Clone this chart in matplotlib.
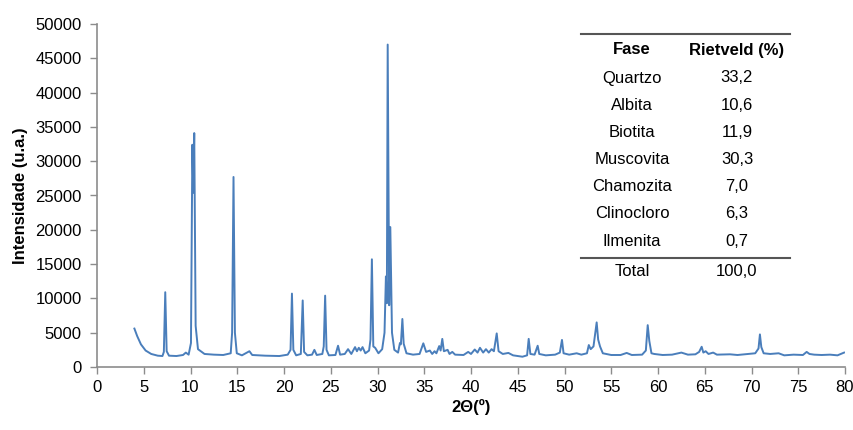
import matplotlib.pyplot as plt
from matplotlib.lines import Line2D

plt.rcParams['font.family'] = ['Liberation Sans', 'DejaVu Sans']

# XRD pattern (2theta in degrees, intensity in a.u.)
two_theta = [
    4.0, 4.3, 4.7, 5.2, 5.8, 6.5, 7.0, 7.15, 7.3, 7.45, 7.7, 8.5, 9.2, 9.5, 9.8,
    10.05, 10.2, 10.3, 10.4, 10.55, 10.8, 11.5, 12.5, 13.5, 14.3, 14.45, 14.6, 14.75, 14.95,
    15.5, 16.3, 16.6, 18.0, 19.5, 20.4, 20.7, 20.85, 21.0, 21.3, 21.8, 22.0, 22.15, 22.5,
    23.0, 23.25, 23.5, 24.1, 24.25, 24.4, 24.55, 24.8, 25.5, 25.78, 26.0, 26.5, 26.85, 27.2,
    27.6, 27.8, 28.0, 28.2, 28.4, 28.7, 29.1, 29.25, 29.4, 29.55, 29.75, 30.1, 30.5, 30.75,
    30.9, 31.0, 31.09, 31.25, 31.37, 31.55, 31.8, 32.2, 32.4, 32.5, 32.66, 32.8, 33.1, 33.8,
    34.5, 34.9, 35.2, 35.6, 35.85, 36.1, 36.3, 36.6, 36.75, 36.93, 37.1, 37.5, 37.7, 38.0,
    38.3, 39.2, 39.7, 40.0, 40.4, 40.7, 40.96, 41.3, 41.6, 41.9, 42.2, 42.45, 42.75, 42.95,
    43.4, 44.0, 44.5, 45.5, 46.0, 46.17, 46.35, 46.8, 47.13, 47.3, 48.0, 49.0, 49.5, 49.73,
    49.9, 50.5, 51.3, 51.8, 52.4, 52.6, 52.8, 53.1, 53.44, 53.6, 53.8, 54.1, 55.0, 56.0,
    56.65, 57.2, 58.3, 58.7, 58.9, 59.07, 59.3, 59.6, 60.5, 61.5, 62.5, 63.2, 64.0, 64.4,
    64.67, 64.85, 65.1, 65.4, 65.9, 66.3, 67.7, 68.5, 69.66, 70.4, 70.75, 70.9, 71.05, 71.3,
    72.0, 72.9, 73.5, 74.5, 75.5, 75.9, 76.2, 76.7, 77.5, 78.4, 79.2, 79.9,
]
intensity = [
    5600, 4500, 3300, 2400, 1900, 1650, 1600, 2200, 10900, 2300, 1650, 1600, 1750, 2100, 1800,
    3500, 32400, 25400, 34100, 6000, 2600, 1900, 1800, 1750, 2000, 5000, 27700, 5000, 2000,
    1700, 2300, 1750, 1650, 1600, 1800, 2500, 10700, 2500, 1700, 1900, 9700, 2200, 1700,
    1800, 2500, 1750, 1900, 3000, 10400, 2500, 1700, 1750, 3100, 1800, 1900, 2600, 1900,
    2900, 2300, 2800, 2400, 2900, 2000, 2400, 4000, 15700, 3000, 2800, 2000, 2600, 5000,
    13200, 9300, 47000, 9000, 20400, 5000, 2500, 2100, 3500, 3300, 7000, 3400, 2000, 1800,
    1900, 3450, 2200, 2400, 1900, 2300, 2000, 3050, 2400, 4100, 2300, 2500, 1900, 2200,
    1800, 1750, 2200, 1900, 2550, 2100, 2800, 2100, 2600, 2100, 2600, 2300, 4900, 2300,
    1900, 2050, 1700, 1500, 1700, 4100, 1900, 1800, 3100, 1900, 1700, 1800, 2100, 3950,
    2000, 1800, 2000, 1800, 2000, 3200, 2600, 3000, 6500, 4000, 3000, 2000, 1750, 1750,
    2050, 1750, 1800, 2400, 6100, 3800, 2000, 1900, 1750, 1800, 2100, 1800, 1850, 2200,
    2950, 2100, 2300, 1900, 2100, 1800, 1850, 1750, 1900, 2000, 2700, 4750, 2900, 2000,
    1900, 2000, 1700, 1800, 1750, 2200, 1900, 1800, 1750, 1800, 1700, 2100,
]

# Rietveld quantification table
phases = ['Quartzo', 'Albita', 'Biotita', 'Muscovita', 'Chamozita', 'Clinocloro', 'Ilmenita']
rietveld = ['33,2', '10,6', '11,9', '30,3', '7,0', '6,3', '0,7']
total_label = 'Total'
total_value = '100,0'

W, H = 854, 430


def fx(px):
    return px / W


def fy(py):
    return 1 - py / H


def draw_table(fig):
    x_left, x_right = fx(581), fx(790)
    col1, col2 = fx(632), fx(737)
    row_h = 27.2
    fig.add_artist(Line2D([x_left, x_right], [fy(34), fy(34)], color='#555555', lw=1.5))
    fig.text(col1, fy(50), 'Fase', ha='center', va='center', fontsize=12, fontweight='bold')
    fig.text(col2, fy(50), 'Rietveld (%)', ha='center', va='center', fontsize=12, fontweight='bold')
    for i, (name, val) in enumerate(zip(phases, rietveld)):
        y = fy(78 + i * row_h)
        fig.text(col1, y, name, ha='center', va='center', fontsize=12)
        fig.text(col2, y, val, ha='center', va='center', fontsize=12)
    fig.add_artist(Line2D([x_left, x_right], [fy(258), fy(258)], color='#555555', lw=1.5))
    fig.text(col1, fy(271), total_label, ha='center', va='center', fontsize=12)
    fig.text(col2, fy(271), total_value, ha='center', va='center', fontsize=12)


def main():
    fig = plt.figure(figsize=(W / 100, H / 100), dpi=100)
    ax = fig.add_axes([fx(97), fy(367), fx(845) - fx(97), fy(24) - fy(367)])

    ax.plot(two_theta, intensity, color='#4a7ebb', lw=1.4)

    ax.set_xlim(0, 80)
    ax.set_ylim(0, 50000)
    ax.set_xticks(range(0, 81, 5))
    ax.set_yticks(range(0, 50001, 5000))
    for s in ['top', 'right']:
        ax.spines[s].set_visible(False)
    for s in ['left', 'bottom']:
        ax.spines[s].set_color('#8c8c8c')
        ax.spines[s].set_linewidth(1.2)
    ax.tick_params(direction='out', length=5, width=1, color='#8c8c8c', labelsize=12)
    ax.tick_params(axis='x', pad=4)
    ax.tick_params(axis='y', pad=6)

    ax.set_xlabel('2Θ(º)', fontsize=12, fontweight='bold', labelpad=3)
    ax.set_ylabel('Intensidade (u.a.)', fontsize=12, fontweight='bold', labelpad=5)

    draw_table(fig)

    fig.savefig('out.png', dpi=100)


if __name__ == '__main__':
    main()
